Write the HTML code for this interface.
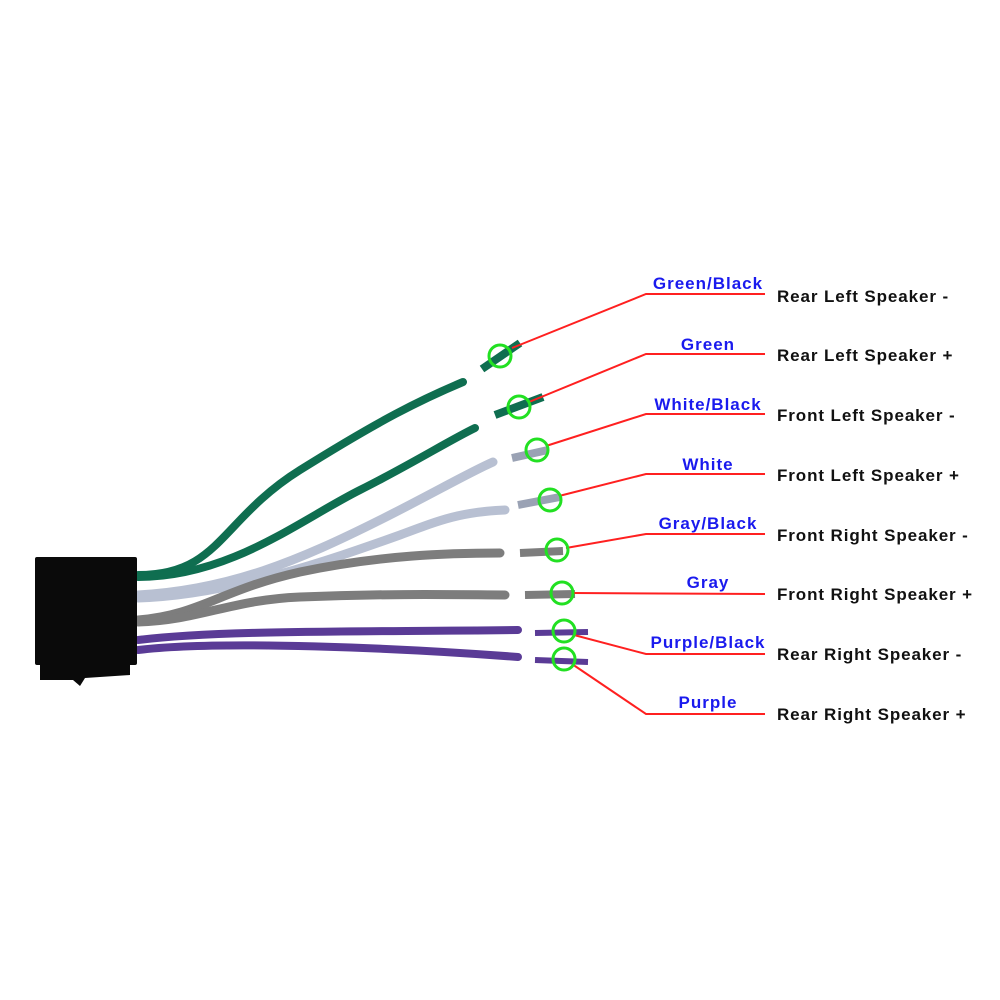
<!DOCTYPE html><html><head><style>body{margin:0;background:#fff}svg{display:block}
.b{font-family:"Liberation Sans",sans-serif;font-weight:bold;font-size:17px;letter-spacing:1px;fill:#1a1aee}
.k{font-family:"Liberation Sans",sans-serif;font-weight:bold;font-size:17px;letter-spacing:0.9px;fill:#111}</style></head><body>
<svg width="1000" height="1000" viewBox="0 0 1000 1000">
<g fill="none" stroke-linecap="round">
<path d="M138,575 C220,575 220,520 300,470 C380,420 420,400 463,382" stroke="#0f6e50" stroke-width="8"/>
<path d="M138,577 C230,577 300,520 360,490 C410,465 450,440 475,428" stroke="#0f6e50" stroke-width="8"/>
<path d="M138,595 C230,590 300,560 380,520 C430,495 470,472 493,462" stroke="#b8c0d2" stroke-width="9"/>
<path d="M138,598 C230,595 330,560 400,535 C440,520 460,512 505,510" stroke="#b8c0d2" stroke-width="9"/>
<path d="M138,620 C200,615 220,590 300,572 C380,555 450,553 500,553" stroke="#7d7d7d" stroke-width="9"/>
<path d="M138,622 C200,620 230,600 300,597 C400,593 470,595 505,595" stroke="#7d7d7d" stroke-width="9"/>
<path d="M138,640 C220,630 350,632 518,630" stroke="#5a3b96" stroke-width="8"/>
<path d="M138,650 C220,640 400,648 518,657" stroke="#5a3b96" stroke-width="8"/>
</g>
<g stroke-linecap="butt" stroke-width="8">
<line x1="482" y1="369" x2="520" y2="343" stroke="#0f6e50"/>
<line x1="495" y1="415" x2="543" y2="397" stroke="#0f6e50"/>
<line x1="512" y1="458" x2="548" y2="450" stroke="#9aa2b4"/>
<line x1="518" y1="505" x2="560" y2="497" stroke="#9aa2b4"/>
<line x1="520" y1="553" x2="563" y2="551" stroke="#7d7d7d"/>
<line x1="525" y1="595" x2="575" y2="594" stroke="#7d7d7d"/>
<line x1="535" y1="633" x2="588" y2="632" stroke="#5a3b96" stroke-width="6"/>
<line x1="535" y1="660" x2="588" y2="662" stroke="#5a3b96" stroke-width="6"/>
</g>
<rect x="35" y="557" width="102" height="108" fill="#0a0a0a" rx="2"/>
<path d="M40,665 L130,665 L130,675 L85,678 L80,686 L73,680 L40,680 Z" fill="#0a0a0a"/>
<g fill="none" stroke="#ff2020" stroke-width="2">
<polyline points="512,348 646,294 765,294"/>
<polyline points="529,402 646,354 765,354"/>
<polyline points="546,446 646,414 765,414"/>
<polyline points="559,496 646,474 765,474"/>
<polyline points="566,548 646,534 765,534"/>
<polyline points="572,593 765,594"/>
<polyline points="574,635 646,654 765,654"/>
<polyline points="572,664 646,714 765,714"/>
</g>
<g fill="none" stroke="#22e022" stroke-width="3">
<circle cx="500" cy="356" r="11"/><circle cx="519" cy="407" r="11"/>
<circle cx="537" cy="450" r="11"/><circle cx="550" cy="500" r="11"/>
<circle cx="557" cy="550" r="11"/><circle cx="562" cy="593" r="11"/>
<circle cx="564" cy="631" r="11"/><circle cx="564" cy="659" r="11"/>
</g>
<g class="b" text-anchor="middle">
<text x="708" y="289">Green/Black</text><text x="708" y="350">Green</text>
<text x="708" y="410">White/Black</text><text x="708" y="470">White</text>
<text x="708" y="529">Gray/Black</text><text x="708" y="588">Gray</text>
<text x="708" y="648">Purple/Black</text><text x="708" y="708">Purple</text>
</g>
<g class="k">
<text x="777" y="302">Rear Left Speaker -</text><text x="777" y="361">Rear Left Speaker +</text>
<text x="777" y="421">Front Left Speaker -</text><text x="777" y="481">Front Left Speaker +</text>
<text x="777" y="541">Front Right Speaker -</text><text x="777" y="600">Front Right Speaker +</text>
<text x="777" y="660">Rear Right Speaker -</text><text x="777" y="720">Rear Right Speaker +</text>
</g>
</svg></body></html>
